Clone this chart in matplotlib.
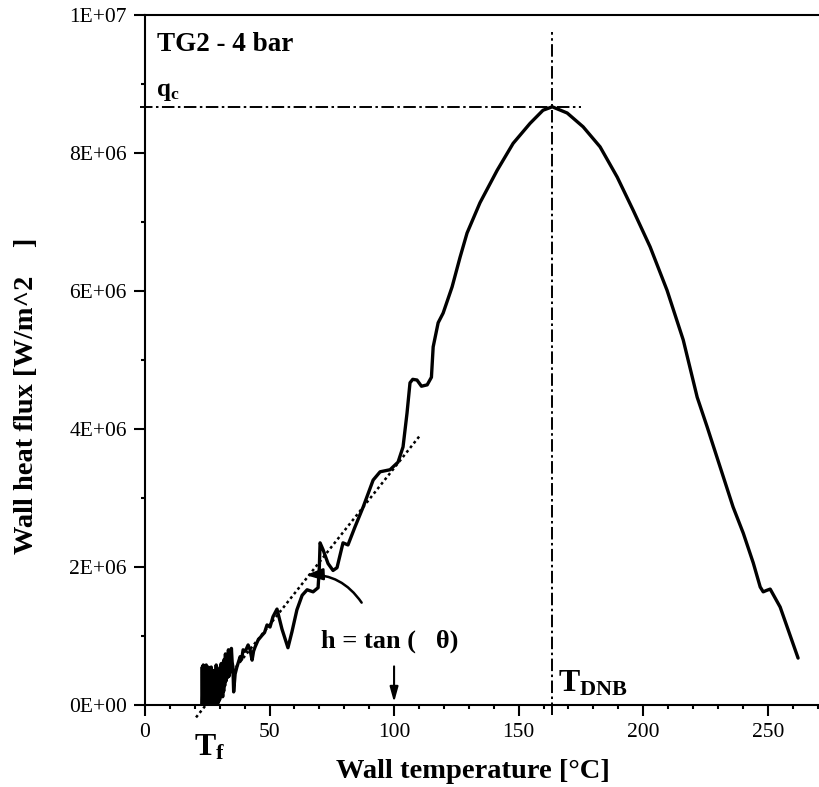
import matplotlib
matplotlib.use('Agg')
import matplotlib.pyplot as plt
import numpy as np

# wall temperature [C] and wall heat flux [MW/m2]
temp = [22.8, 23.0, 23.2, 23.4, 23.6, 23.8, 24.0, 24.2, 24.4, 24.6,
        24.8, 25.0, 25.2, 25.4, 25.6, 25.8, 26.0, 26.2, 26.4, 26.6,
        26.8, 27.0, 27.2, 27.4, 27.6, 27.8, 28.0, 28.2, 28.4, 28.6,
        28.8, 29.0, 29.2, 29.4, 29.6, 29.8, 30.0, 30.2, 30.4, 30.6,
        30.8, 31.0, 31.2, 31.4, 31.6, 31.8, 32.0, 32.3, 32.6, 32.9,
        33.2, 33.5, 33.8, 34.1, 34.4, 34.7, 35.0, 35.3, 35.6,
        36.2, 36.9, 37.5, 38.2, 38.8, 39.4, 40.3, 41.4, 42.2, 43.0,
        43.6, 44.2, 45.4, 47.0, 48.0, 49.0, 50.2, 51.4, 53.0, 55.0,
        57.4, 59.0, 61.0, 63.1, 65.1, 67.5, 69.5, 70.0, 70.3, 71.5,
        73.5, 75.5, 77.1, 78.5, 79.5, 81.5, 84.3, 87.6, 91.6, 94.4,
        98.4, 101.6, 103.6, 105.2, 106.4, 107.5, 109.2, 111.0, 113.3, 115.0,
        115.7, 117.7, 119.7, 123.3, 126.5, 129.3, 134.5, 141.4, 147.8, 154.6,
        159.8, 163.5, 169.5, 175.9, 182.7, 189.6, 196.0, 202.8, 209.6, 216.1,
        221.7, 225.7, 230.9, 236.1, 240.2, 244.2, 247.0, 248.2, 249.5, 251.0,
        255.0, 258.2, 262.2]
flux = [0.00, 0.55, 0.05, 0.58, 0.02, 0.50, 0.00, 0.55, 0.05, 0.58,
        0.00, 0.45, 0.03, 0.55, 0.08, 0.52, 0.00, 0.40, 0.02, 0.55,
        0.05, 0.35, 0.00, 0.50, 0.06, 0.30, 0.02, 0.48, 0.05, 0.58,
        0.10, 0.40, 0.02, 0.50, 0.05, 0.38, 0.08, 0.55, 0.15, 0.60,
        0.18, 0.48, 0.12, 0.62, 0.20, 0.66, 0.28, 0.74, 0.35, 0.72,
        0.40, 0.80, 0.42, 0.76, 0.48, 0.82, 0.62, 0.55, 0.19,
        0.45, 0.55, 0.62, 0.70, 0.66, 0.80, 0.78, 0.87, 0.80, 0.65,
        0.78, 0.84, 0.94, 1.01, 1.05, 1.16, 1.13, 1.28, 1.39, 1.10,
        0.83, 1.06, 1.38, 1.59, 1.67, 1.64, 1.70, 2.00, 2.35, 2.25,
        2.05, 1.95, 1.99, 2.20, 2.35, 2.32, 2.58, 2.87, 3.26, 3.38,
        3.41, 3.52, 3.74, 4.23, 4.67, 4.72, 4.71, 4.62, 4.64, 4.75,
        5.19, 5.54, 5.68, 6.06, 6.49, 6.84, 7.28, 7.75, 8.14, 8.43,
        8.62, 8.67, 8.58, 8.38, 8.09, 7.65, 7.17, 6.64, 6.01, 5.29,
        4.46, 4.03, 3.45, 2.87, 2.49, 2.06, 1.71, 1.64, 1.66, 1.68,
        1.42, 1.09, 0.68]

q_c = 8.67e6
T_dnb = 163.5
tangent_temp = [20.5, 110.5]
tangent_flux = [-0.18e6, 3.91e6]

xticks = [0, 50, 100, 150, 200, 250]
yticks = [0, 2e6, 4e6, 6e6, 8e6, 1e7]
ytick_labels = ['0E+00', '2E+06', '4E+06', '6E+06', '8E+06', '1E+07']

plt.rcParams['font.family'] = ['Liberation Serif', 'DejaVu Serif']
plt.rcParams['mathtext.fontset'] = 'custom'
plt.rcParams['mathtext.rm'] = 'Liberation Serif'
plt.rcParams['mathtext.bf'] = 'Liberation Serif:bold'
plt.rcParams['lines.scale_dashes'] = False

fig = plt.figure(figsize=(8.2, 7.87), dpi=100)
ax = fig.add_axes([0.1768, 0.1042, 0.8232, 0.8767])

ax.plot(temp, np.array(flux) * 1e6, color='black', lw=2.4,
        solid_joinstyle='round', solid_capstyle='round')

# tangent line at the onset of boiling
ax.plot(tangent_temp, tangent_flux, color='black', lw=1.8,
        ls=(0, (2, 2.2)), clip_on=False)

# critical heat flux and DNB temperature
dashdot = (0, (9, 2.5, 1.8, 2.5))
ax.plot([-2, 175], [q_c, q_c], color='black', lw=1.4, ls=dashdot, clip_on=False)
ax.plot([T_dnb, T_dnb], [-0.15e6, 9.75e6], color='black', lw=1.4, ls=dashdot,
        clip_on=False)

ax.set_xlim(0, 271)
ax.set_ylim(0, 1e7)
ax.set_xticks(xticks)
ax.set_xticks(np.arange(10, 271, 10), minor=True)
ax.set_yticks(yticks)
ax.set_yticklabels(ytick_labels)
ax.set_yticks(np.arange(1e6, 1e7, 2e6), minor=True)
ax.tick_params(which='major', length=8, width=1.5, labelsize=15.5, pad=5)
ax.tick_params(which='minor', length=3, width=1.5)
ax.spines['right'].set_visible(False)
for s in ['left', 'bottom', 'top']:
    ax.spines[s].set_linewidth(1.5)

fig.text(473 / 820, 1 - 772 / 787, 'Wall temperature [°C]', fontsize=20.5,
         fontweight='bold', ha='center', va='center')
fig.text(27 / 820, 1 - 396 / 787, 'Wall heat flux [W/m^2    ]', fontsize=20.5,
         fontweight='bold', ha='center', va='center', rotation=90)

ax.text(4.8, 9.57e6, 'TG2 - 4 bar', fontsize=19.5, fontweight='bold', va='center')
ax.text(4.4, 8.72e6, r'$\mathbf{q_c}$', fontsize=18, va='bottom')
ax.text(166, 0.1e6, r'$\mathbf{T_{DNB}}$', fontsize=23, va='bottom')
fig.text(194 / 820, 1 - 733 / 787, r'$\mathbf{T_f}$', fontsize=23, va='top')
ax.text(70.6, 0.83e6, 'h = tan (   θ)', fontsize=19, fontweight='bold',
        va='baseline')

ax.annotate('', xy=(100, 0), xytext=(100, 0.6e6),
            arrowprops=dict(arrowstyle='-|>,head_length=0.9,head_width=0.25',
                            color='black', lw=1.5))
ax.annotate('', xy=(63.5, 1.88e6), xytext=(87.6, 1.45e6),
            arrowprops=dict(arrowstyle='-|>,head_length=1.0,head_width=0.35',
                            connectionstyle='arc3,rad=0.3',
                            color='black', lw=1.8))

fig.savefig('out.png', dpi=100)
